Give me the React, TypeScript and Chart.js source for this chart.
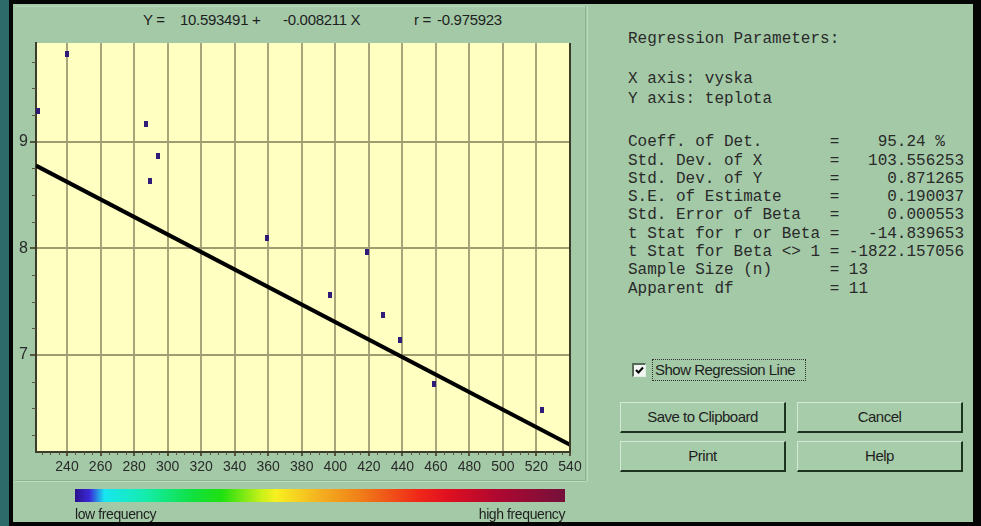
import React, { useEffect, useRef } from "react";
import { Chart, registerables } from "chart.js";

Chart.register(...registerables);

// ---- data ----
const pointX = [222.7, 240, 287.1, 294.3, 289.5, 359.3, 418.9, 396.8, 428.4, 438.6, 458.8, 523.2];
const pointY = [9.287, 9.82, 9.165, 8.865, 8.63, 8.097, 7.965, 7.56, 7.375, 7.14, 6.73, 6.485];
const lineX = [221.5, 540];
const lineY = [8.775, 6.159];
const xTicks = [240, 260, 280, 300, 320, 340, 360, 380, 400, 420, 440, 460, 480, 500, 520, 540];
const yTicks = [7, 8, 9];
const xRange = [221.5, 540];
const yRange = [6.09, 9.925];

const equationParts = ["Y =", "10.593491 +", "-0.008211 X", "r =", "-0.975923"];
const statLines = [
  "Regression Parameters:",
  "X axis: vyska",
  "Y axis: teplota",
  "Coeff. of Det.       =    95.24 %",
  "Std. Dev. of X       =   103.556253",
  "Std. Dev. of Y       =     0.871265",
  "S.E. of Estimate     =     0.190037",
  "Std. Error of Beta   =     0.000553",
  "t Stat for r or Beta =   -14.839653",
  "t Stat for Beta <> 1 = -1822.157056",
  "Sample Size (n)      = 13",
  "Apparent df          = 11",
];
const buttonLabels = ["Save to Clipboard", "Cancel", "Print", "Help"];
const checkboxLabel = "Show Regression Line";
const legendLabels = ["low frequency", "high frequency"];

// ---- layout / styles ----
const GREEN = "#a3c9a7";
const eqLeft = [143, 180, 283, 414, 437];
const statTop = [39, 79, 99, 142, 160.5, 178.8, 197.1, 215.4, 233.7, 252, 270.3, 288.6];
const btnPos = [
  { left: 620, top: 402 },
  { left: 797, top: 402 },
  { left: 620, top: 441 },
  { left: 797, top: 441 },
];

function ChartCanvas() {
  const ref = useRef<HTMLCanvasElement | null>(null);
  useEffect(() => {
    const canvas = ref.current;
    if (!canvas) return;
    const marker = document.createElement("canvas");
    marker.width = 4;
    marker.height = 6;
    const mg = marker.getContext("2d")!;
    mg.fillStyle = "#2e1c78";
    mg.fillRect(0, 0, 4, 6);

    const framePlugin = {
      id: "frame",
      beforeDraw(chart: any) {
        const { ctx, chartArea: a } = chart;
        ctx.save();
        ctx.fillStyle = "#ffffc2";
        ctx.fillRect(a.left, a.top, a.right - a.left, a.bottom - a.top);
        ctx.restore();
      },
      afterDraw(chart: any) {
        const { ctx, chartArea: a, scales } = chart;
        const xs = scales.x;
        const ys = scales.y;
        ctx.save();
        ctx.strokeStyle = "#3c3c2a";
        ctx.lineWidth = 2;
        ctx.beginPath();
        ctx.moveTo(a.right, a.top);
        ctx.lineTo(a.right, a.bottom);
        ctx.stroke();
        ctx.lineWidth = 1;
        ctx.strokeStyle = "#55553c";
        ctx.beginPath();
        for (let v = 225; v < xRange[1]; v += 5) {
          if (v % 20 === 0) continue;
          const px = Math.round(xs.getPixelForValue(v)) + 0.5;
          ctx.moveTo(px, a.bottom);
          ctx.lineTo(px, a.bottom + 3);
        }
        for (let v = 6.25; v < yRange[1]; v += 0.25) {
          if (Math.abs(v - Math.round(v)) < 1e-6) continue;
          const py = Math.round(ys.getPixelForValue(v)) + 0.5;
          ctx.moveTo(a.left - 4, py);
          ctx.lineTo(a.left, py);
        }
        ctx.stroke();
        ctx.restore();
      },
    };

    const chart = new Chart(canvas, {
      type: "scatter",
      data: {
        datasets: [
          {
            data: pointX.map((x, i) => ({ x, y: pointY[i] })),
            pointStyle: marker as any,
            pointRadius: 3,
            showLine: false,
            backgroundColor: "#2e1c78",
            borderColor: "#2e1c78",
          },
          {
            data: lineX.map((x, i) => ({ x, y: lineY[i] })),
            showLine: true,
            borderColor: "#000000",
            borderWidth: 4,
            pointRadius: 0,
            fill: false,
          } as any,
        ],
      },
      options: {
        animation: false,
        responsive: false,
        devicePixelRatio: 1,
        layout: { padding: { left: 0, top: 43, right: 20, bottom: 10 } },
        plugins: { legend: { display: false }, tooltip: { enabled: false } },
        scales: {
          x: {
            type: "linear",
            min: xRange[0],
            max: xRange[1],
            afterBuildTicks: (s: any) => {
              s.ticks = xTicks.map((v) => ({ value: v }));
            },
            afterFit: (s: any) => {
              s.height = 28;
            },
            grid: { color: "#a9a57b", lineWidth: 2, tickLength: 4, tickColor: "#55553c" },
            border: { color: "#3c3c2a", width: 2 },
            ticks: {
              color: "#2a2a2a",
              font: { family: "Liberation Sans", size: 14 },
              padding: 3,
              maxRotation: 0,
              autoSkip: false,
            },
          },
          y: {
            type: "linear",
            min: yRange[0],
            max: yRange[1],
            afterBuildTicks: (s: any) => {
              s.ticks = yTicks.map((v) => ({ value: v }));
            },
            afterFit: (s: any) => {
              s.width = 36;
            },
            grid: { color: "#a09c72", lineWidth: 2, tickLength: 6, tickColor: "#55553c" },
            border: { color: "#3c3c2a", width: 2 },
            ticks: {
              color: "#2a2a2a",
              font: { family: "Liberation Sans", size: 16 },
              padding: 2,
            },
          },
        },
      },
      plugins: [framePlugin],
    });
    return () => chart.destroy();
  }, []);
  return (
    <canvas
      ref={ref}
      width={590}
      height={490}
      style={{ position: "absolute", left: 0, top: 0, width: 590, height: 490 }}
    />
  );
}

export default function App() {
  const abs = (o: React.CSSProperties): React.CSSProperties => ({ position: "absolute", ...o });
  return (
    <div
      style={{
        position: "fixed",
        left: 0,
        top: 0,
        width: 981,
        height: 526,
        background: "#050505",
        overflow: "hidden",
        fontFamily: "Liberation Sans, Arial, sans-serif",
      }}
    >
      <div style={abs({ left: 0, top: 0, width: 9, height: 526, background: "#2d6a6a" })} />
      <div style={abs({ left: 13, top: 4, width: 960, height: 518, background: GREEN })} />
      {/* panel separators */}
      <div style={abs({ left: 15, top: 6, width: 570, height: 1, background: "#b8d9bb" })} />
      <div style={abs({ left: 585, top: 6, width: 1, height: 476, background: "#8db392" })} />
      <div style={abs({ left: 587, top: 6, width: 1, height: 476, background: "#bcdcbf" })} />
      <div style={abs({ left: 15, top: 480, width: 571, height: 1, background: "#8db392" })} />
      <div style={abs({ left: 15, top: 481, width: 571, height: 1, background: "#bcdcbf" })} />

      {equationParts.map((t, i) => (
        <div
          key={i}
          style={abs({
            left: eqLeft[i],
            top: 11,
            fontSize: 15,
            lineHeight: "18px",
            color: "#1e1e1e",
            letterSpacing: -0.3,
            whiteSpace: "pre",
          })}
        >
          {t}
        </div>
      ))}

      <ChartCanvas />

      {/* colour bar */}
      <div
        style={abs({
          left: 75,
          top: 489,
          width: 490,
          height: 13,
          background:
            "linear-gradient(to right, #2a108e 0%, #3a2ad8 3%, #18e6f0 6%, #14ecb0 14%, #10e040 24%, #20e010 30%, #c8f018 38%, #f8f020 41%, #f4b020 50%, #f08018 58%, #f02818 70%, #e01020 76%, #b00830 86%, #74103a 100%)",
        })}
      />
      <div style={abs({ left: 75, top: 506, fontSize: 14, lineHeight: "17px", color: "#1e1e1e", letterSpacing: -0.4 })}>
        {legendLabels[0]}
      </div>
      <div
        style={abs({
          left: 445,
          width: 120,
          textAlign: "right",
          top: 506,
          fontSize: 14,
          lineHeight: "17px",
          color: "#1e1e1e",
          letterSpacing: -0.4,
        })}
      >
        {legendLabels[1]}
      </div>

      {/* statistics */}
      {statLines.map((t, i) => (
        <div
          key={i}
          style={abs({
            left: 628,
            top: statTop[i] - 9,
            fontFamily: "Liberation Mono, monospace",
            fontSize: 16,
            lineHeight: "18px",
            color: "#2a2a2a",
            whiteSpace: "pre",
          })}
        >
          {t}
        </div>
      ))}

      {/* checkbox */}
      <div
        style={abs({
          left: 632,
          top: 363,
          width: 11,
          height: 11,
          background: "#f2f6f2",
          borderTop: "2px solid #556b58",
          borderLeft: "2px solid #556b58",
          borderRight: "1px solid #e4f0e5",
          borderBottom: "1px solid #e4f0e5",
        })}
      >
        <svg width="11" height="11" style={{ display: "block" }}>
          <path d="M2 5 L4.5 7.5 L9 2.5" stroke="#000" strokeWidth="2" fill="none" />
        </svg>
      </div>
      <div
        style={abs({
          left: 652,
          top: 359,
          width: 152,
          height: 20,
          border: "1px dotted #333",
        })}
      />
      <div
        style={abs({
          left: 655,
          top: 360,
          fontSize: 15,
          lineHeight: "19px",
          color: "#1e1e1e",
          letterSpacing: -0.5,
          whiteSpace: "pre",
        })}
      >
        {checkboxLabel}
      </div>

      {/* buttons */}
      {buttonLabels.map((t, i) => (
        <div
          key={i}
          style={abs({
            left: btnPos[i].left,
            top: btnPos[i].top,
            width: 163,
            height: 28,
            background: "#a6cca9",
            borderTop: "1px solid #d4ead6",
            borderLeft: "1px solid #d4ead6",
            borderRight: "2px solid #1c3420",
            borderBottom: "2px solid #1c3420",
            fontSize: 15,
            lineHeight: "28px",
            textAlign: "center",
            color: "#1e1e1e",
            letterSpacing: -0.5,
          })}
        >
          {t}
        </div>
      ))}
    </div>
  );
}
